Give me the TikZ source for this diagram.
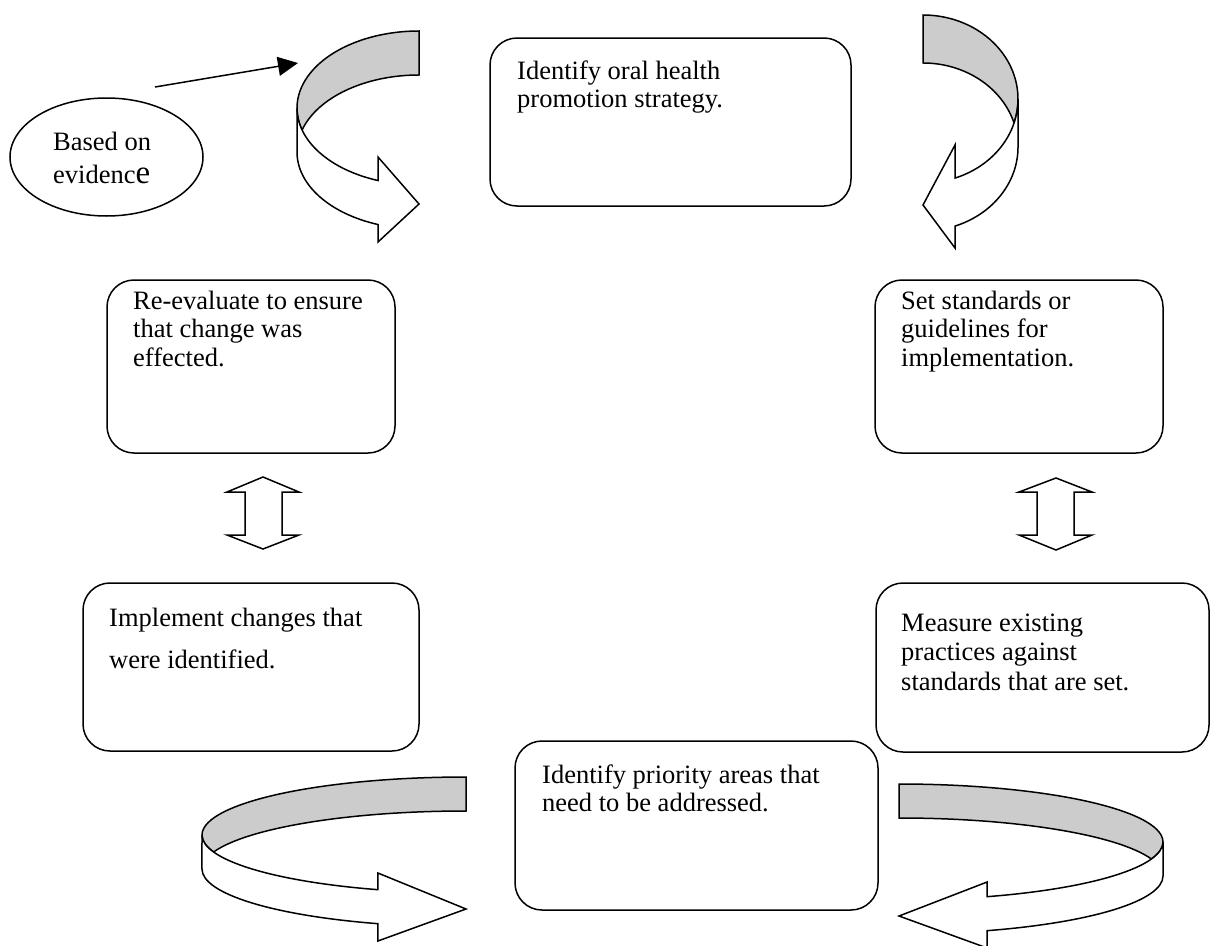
\documentclass[tikz,border=0pt]{standalone}
\usepackage{fontspec}
\setmainfont{Liberation Serif}
\usetikzlibrary{arrows.meta,shapes.geometric}
\definecolor{ribbongray}{RGB}{204,204,204}
% left-aligned block whose baseline is the baseline of its first line
\newcommand\stack[1]{\begin{tabular}[t]{@{}l@{}}#1\end{tabular}}
\begin{document}
\begin{tikzpicture}[x=1pt,y=1pt,
  outline/.style={draw=black,line width=1.5pt,line join=miter},
  stepbox/.style={outline,rectangle,rounded corners=27pt,inner sep=0pt,outer sep=0pt,anchor=north west},
  boxtext/.style={anchor=base west,inner sep=0pt,font=\fontsize{26.5}{28.5}\selectfont},
  inside/.style={outline,fill=ribbongray},
  outside/.style={outline,fill=white},
  pointer/.style={line width=1.5pt,-{Triangle[length=20pt,width=19pt]}},
]
\useasboundingbox (0,0) rectangle (1210,-945);

% ---- boxes of the cycle ----
\node[stepbox,minimum width=361pt,minimum height=168pt] (strategy) at (490,-38) {};
\node[boxtext] (strategytext) at (517,-79) {\stack{Identify oral health\\promotion strategy.}};

\node[stepbox,minimum width=288pt,minimum height=173pt] (reeval) at (107,-280) {};
\node[boxtext] (reevaltext) at (133,-309) {\stack{Re-evaluate to ensure\\that change was\\effected.}};

\node[stepbox,minimum width=288pt,minimum height=173pt] (standards) at (875,-280) {};
\node[boxtext] (standardstext) at (901,-309) {\stack{Set standards or\\guidelines for\\implementation.}};

\node[stepbox,minimum width=336pt,minimum height=168pt] (implement) at (83,-583) {};
\node[boxtext] (implementtext) at (109,-626) {\stack{Implement changes that\\[14pt]were identified.}};

\node[stepbox,minimum width=333pt,minimum height=169pt] (measure) at (876,-583) {};
\node[boxtext] (measuretext) at (901,-631) {\stack{Measure existing\\[1pt]practices against\\[1pt]standards that are set.}};

\node[stepbox,minimum width=363pt,minimum height=169pt] (priority) at (515,-741) {};
\node[boxtext] (prioritytext) at (542,-783) {\stack{Identify priority areas that\\need to be addressed.}};

% ---- starting point ----
\node[outline,ellipse,minimum width=193pt,minimum height=118pt,inner sep=0pt] (evidence) at (106.5,-157) {};
\node[boxtext] (evidencetext) at (53,-150) {\stack{Based on\\[5pt]evidenc{\fontsize{33}{33}\selectfont e}}};
\coordinate (evtail) at (155,-87);
\coordinate (evhead) at (298,-63);
\draw[pointer] (evtail) -- (evhead);

% ---- curved ribbon arrows: grey inner face, white outer face ----
% top left
\path[inside] (419,-31) arc[start angle=90,end angle=196.6,x radius=122pt,y radius=77pt]
  arc[start angle=163.4,end angle=90,x radius=122pt,y radius=77pt] -- cycle;
\path[outside] (297,-108) arc[start angle=180,end angle=250.36,x radius=122pt,y radius=77pt]
  -- (378,-157) -- (419,-204) -- (378,-242) -- (378,-224.52)
  arc[start angle=250.36,end angle=180,x radius=122pt,y radius=77pt] -- cycle;

% top right
\path[inside] (923,-15) arc[start angle=90,end angle=-16.6,x radius=95pt,y radius=84pt]
  arc[start angle=16.6,end angle=90,x radius=95pt,y radius=84pt] -- cycle;
\path[outside] (1018,-99) arc[start angle=0,end angle=-70.32,x radius=95pt,y radius=84pt]
  -- (955,-145) -- (923,-205) -- (955,-248) -- (955,-226.09)
  arc[start angle=-70.32,end angle=0,x radius=95pt,y radius=84pt] -- cycle;

% bottom left
\path[inside] (466,-777) arc[start angle=90,end angle=197.04,x radius=264pt,y radius=58pt]
  arc[start angle=162.96,end angle=90,x radius=264pt,y radius=58pt] -- cycle;
\path[outside] (202,-835) arc[start angle=180,end angle=250.5,x radius=264pt,y radius=58pt]
  -- (377.87,-873) -- (466,-909) -- (377.87,-941) -- (377.87,-923.67)
  arc[start angle=250.5,end angle=180,x radius=264pt,y radius=58pt] -- cycle;

% bottom right
\path[inside] (899,-784) arc[start angle=90,end angle=-17.04,x radius=264pt,y radius=58pt]
  arc[start angle=17.04,end angle=90,x radius=264pt,y radius=58pt] -- cycle;
\path[outside] (1163,-842) arc[start angle=0,end angle=-70.5,x radius=264pt,y radius=58pt]
  -- (987.13,-882) -- (899,-916) -- (987.13,-948) -- (987.13,-930.67)
  arc[start angle=-70.5,end angle=0,x radius=264pt,y radius=58pt] -- cycle;

% ---- two-way block arrows ----
\path[outside] (263,-477) -- (299,-492) -- (282,-492) -- (282,-535) -- (299,-535)
  -- (263,-549) -- (227,-535) -- (245,-535) -- (245,-492) -- (227,-492) -- cycle;
\path[outside] (1056,-478) -- (1092,-492) -- (1074,-492) -- (1074,-535) -- (1092,-535)
  -- (1056,-550) -- (1019,-535) -- (1037,-535) -- (1037,-492) -- (1019,-492) -- cycle;
\end{tikzpicture}
\end{document}
